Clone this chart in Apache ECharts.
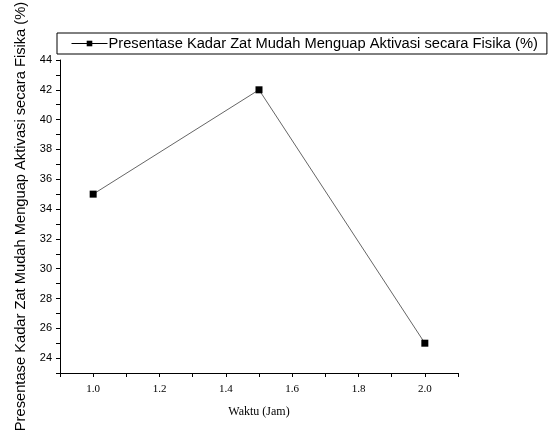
<!DOCTYPE html>
<html><head><meta charset="utf-8">
<script src="https://cdn.jsdelivr.net/npm/echarts@6/dist/echarts.min.js"></script>
<style>html,body{margin:0;padding:0;background:#fff}#c{width:554px;height:442px}</style>
</head><body><div id="c"></div>
<script>
var waktu = [1.0, 1.5, 2.0];
var kadar = [35, 42, 25];
var seriesName = 'Presentase Kadar Zat Mudah Menguap Aktivasi secara Fisika (%)';
var xLabels = ['1.0','1.2','1.4','1.6','1.8','2.0'];
var yLabels = ['24','26','28','30','32','34','36','38','40','42','44'];

var chart = echarts.init(document.getElementById('c'));
chart.setOption({
  animation: false,
  backgroundColor: '#fff',
  grid: {left: 60, right: 96, top: 60, bottom: 69, containLabel: false, outerBoundsMode: 'none'},
  legend: {
    left: 57, top: 33,
    borderColor: '#000', borderWidth: 1, padding: [3, 9, 3, 14],
    itemWidth: 36, itemHeight: 7, itemGap: 0,
    lineStyle: {color: '#000', width: 1},
    textStyle: {fontFamily: 'Liberation Sans, Arial', fontSize: 14.7, color: '#000', padding: [0,0,0,-4]},
    data: [seriesName]
  },
  xAxis: {
    type: 'value', min: 0.9, max: 2.1, interval: 0.1,
    name: 'Waktu (Jam)', nameLocation: 'middle', nameGap: 33,
    nameTextStyle: {fontFamily: 'Liberation Serif, Times New Roman', fontSize: 12, color: '#000'},
    axisLine: {lineStyle: {color: '#000', width: 1}},
    axisTick: {inside: false, length: 4, lineStyle: {color: '#000'}},
    splitLine: {show: false},
    axisLabel: {
      fontFamily: 'Liberation Serif, Times New Roman', fontSize: 11, color: '#000', margin: 11,
      formatter: function (v) {
        var s = v.toFixed(1);
        return xLabels.indexOf(s) >= 0 ? s : '';
      }
    }
  },
  yAxis: {
    type: 'value', min: 23, max: 44, interval: 1,
    name: 'Presentase Kadar Zat Mudah Menguap Aktivasi secara Fisika (%)',
    nameLocation: 'middle', nameGap: 29,
    nameTextStyle: {fontFamily: 'Liberation Sans, Arial', fontSize: 14.7, color: '#000'},
    axisLine: {lineStyle: {color: '#000', width: 1}},
    axisTick: {inside: false, length: 4, lineStyle: {color: '#000'}},
    splitLine: {show: false},
    axisLabel: {
      fontFamily: 'Liberation Sans, Arial', fontSize: 11, color: '#000', margin: 8,
      formatter: function (v) {
        var s = String(Math.round(v));
        return yLabels.indexOf(s) >= 0 ? s : '';
      }
    }
  },
  series: [{
    name: seriesName, type: 'line',
    data: waktu.map(function (x, i) { return [x, kadar[i]]; }),
    symbol: 'rect', symbolSize: 7,
    lineStyle: {color: '#666', width: 1},
    itemStyle: {color: '#000'}
  }]
});
</script></body></html>
